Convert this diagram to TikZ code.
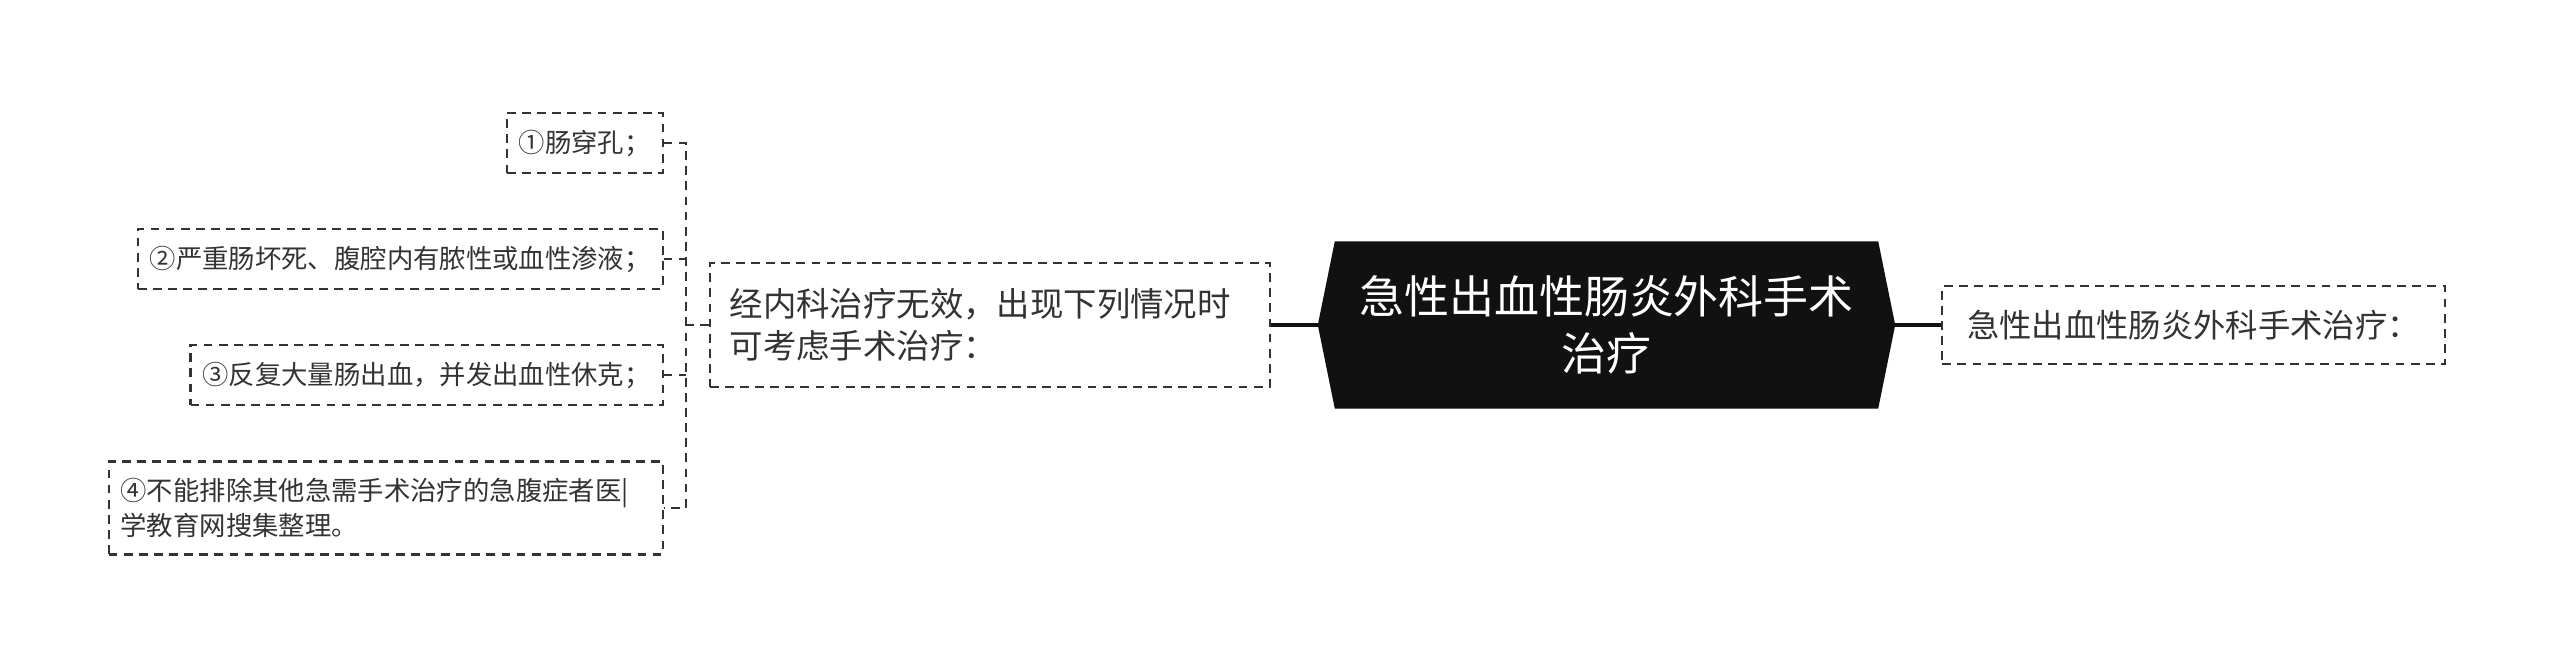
\documentclass[tikz,border=0pt]{standalone}
\usepackage{fontspec}
\newfontfamily\cjk{Noto Sans CJK SC}
\usetikzlibrary{positioning, backgrounds}
\definecolor{Ink}{HTML}{111111}
\definecolor{Edge}{HTML}{333333}

\begin{document}
\begin{tikzpicture}[
    topic/.style={
        minimum width=5.42cm, minimum height=1.66cm, inner sep=0pt,
        text width=5.3cm, align=center, text=white,
        font=\cjk\fontsize{12.8}{16.2}\selectfont
    },
    box/.style={draw=Edge, line width=0.6pt, dash pattern=on 2.5pt off 1.8pt, text=Edge},
    branch/.style={box, minimum height=0.78cm, inner xsep=0.25cm,
        font=\cjk\fontsize{9.2}{11.5}\selectfont},
    cond/.style={box, minimum height=1.24cm, inner xsep=0.2cm, text width=5.2cm,
        align=left, font=\cjk\fontsize{9.5}{11.95}\selectfont},
    leaf/.style={box, minimum height=0.60cm, inner xsep=0.12cm, align=left,
        anchor=east, font=\cjk\fontsize{7.5}{10.2}\selectfont},
    link/.style={draw=Ink, line width=0.9pt},
    twig/.style={draw=Edge, line width=0.6pt, dash pattern=on 2.5pt off 1.8pt}
]
\useasboundingbox (0,0) rectangle (25.6,-6.68);

% centre topic
\node[topic] (cen) at (16.065,-3.25) {急性出血性肠炎外科手术\\治疗};
\begin{scope}[on background layer]
    \fill[Ink] (cen.north west) -- (cen.north east) -- ([xshift=0.17cm]cen.east)
        -- (cen.south east) -- (cen.south west) -- ([xshift=-0.17cm]cen.west) -- cycle;
\end{scope}

% right branch
\node[branch, right=0.63cm of cen] (side) {急性出血性肠炎外科手术治疗：};
\draw[link] ([xshift=0.17cm]cen.east) -- (side.west);

% left branch
\node[cond, left=0.64cm of cen] (mid) {经内科治疗无效，出现下列情况时\\可考虑手术治疗：};
\draw[link] ([xshift=-0.17cm]cen.west) -- (mid.east);

% conditions
\coordinate[left=0.23cm of mid.west] (trunk);
\node[leaf] (c1) at ([xshift=-0.22cm, yshift=1.82cm]trunk) {①肠穿孔；};
\node[leaf] (c2) at ([xshift=-0.22cm, yshift=0.66cm]trunk) {②严重肠坏死、腹腔内有脓性或血性渗液；};
\node[leaf] (c3) at ([xshift=-0.22cm, yshift=-0.50cm]trunk) {③反复大量肠出血，并发出血性休克；};
\node[leaf, minimum height=0.93cm, text width=5.3cm] (c4) at ([xshift=-0.22cm, yshift=-1.83cm]trunk)
    {④不能排除其他急需手术治疗的急腹症者医|\\学教育网搜集整理。};

\draw[twig] (mid.west) -- (trunk);
\draw[twig] (c1.east) -- (c1.east -| trunk) -- (c4.east -| trunk) -- (c4.east);
\draw[twig] (c2.east) -- (c2.east -| trunk);
\draw[twig] (c3.east) -- (c3.east -| trunk);

\end{tikzpicture}
\end{document}
